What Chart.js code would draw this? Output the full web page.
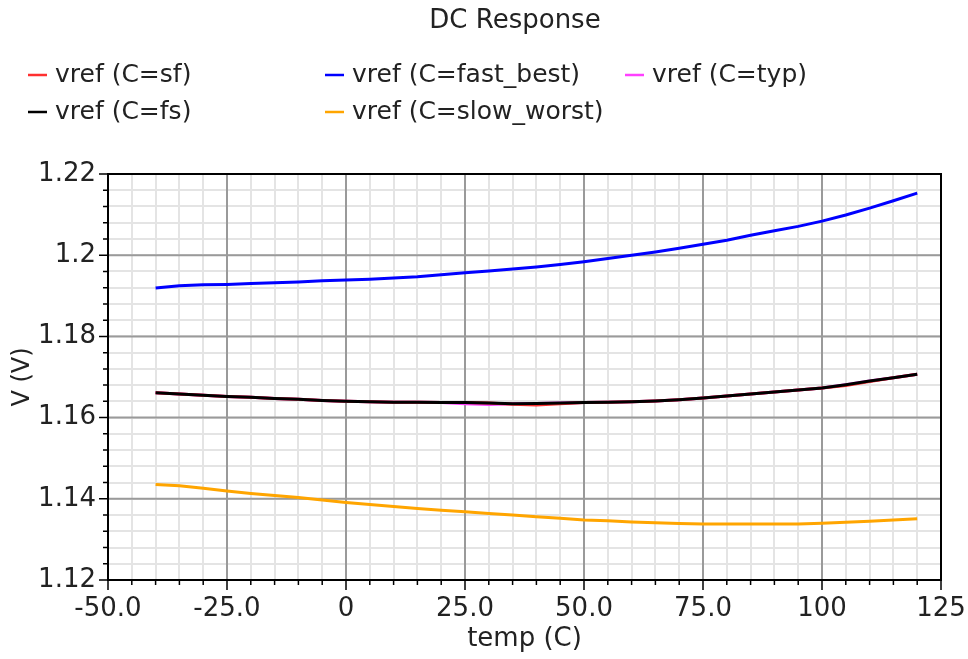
<!DOCTYPE html>
<html>
<head>
<meta charset="utf-8">
<title>DC Response</title>
<script src="https://cdn.jsdelivr.net/npm/chart.js@4.4.1/dist/chart.umd.min.js"></script>
<style>
  html, body { margin: 0; padding: 0; background: #fff; }
  #wrap { width: 968px; height: 659px; }
</style>
</head>
<body>
<div id="wrap"><canvas id="dc" width="968" height="659"></canvas></div>
<script>
var chartTitle = 'DC Response';
var temps = [-40, -35, -30, -25, -20, -15, -10, -5, 0, 5, 10, 15, 20, 25, 30, 35, 40,
             45, 50, 55, 60, 65, 70, 75, 80, 85, 90, 95, 100, 105, 110, 115, 120];

var vrefFastBest = [1.1919, 1.1925, 1.1927, 1.1928, 1.1930, 1.1932, 1.1934, 1.1937, 1.1939, 1.1941, 1.1944,
                    1.1947, 1.1952, 1.1957, 1.1961, 1.1966, 1.1971, 1.1977, 1.1984, 1.1992, 1.2000, 1.2008,
                    1.2017, 1.2027, 1.2037, 1.2049, 1.2060, 1.2071, 1.2084, 1.2099, 1.2116, 1.2134, 1.2153];
var vrefFs = [1.1661, 1.1658, 1.1655, 1.1652, 1.1650, 1.1647, 1.1645, 1.1642, 1.1640, 1.1639, 1.1638,
              1.1638, 1.1637, 1.1637, 1.1636, 1.1634, 1.1635, 1.1636, 1.1637, 1.1638, 1.1639, 1.1641,
              1.1644, 1.1648, 1.1653, 1.1658, 1.1663, 1.1668, 1.1673, 1.1681, 1.1690, 1.1698, 1.1707];
var vrefSf = [1.1661, 1.1658, 1.1655, 1.1652, 1.1650, 1.1647, 1.1645, 1.1642, 1.1640, 1.1639, 1.1638,
              1.1638, 1.1637, 1.1637, 1.1636, 1.1633, 1.1631, 1.1634, 1.1637, 1.1638, 1.1639, 1.1641,
              1.1644, 1.1648, 1.1653, 1.1658, 1.1663, 1.1668, 1.1673, 1.1679, 1.1689, 1.1698, 1.1707];
var vrefTyp = [1.1661, 1.1658, 1.1655, 1.1652, 1.1650, 1.1647, 1.1645, 1.1642, 1.1640, 1.1639, 1.1638,
               1.1638, 1.1637, 1.1634, 1.1632, 1.1634, 1.1635, 1.1636, 1.1637, 1.1638, 1.1639, 1.1641,
               1.1644, 1.1648, 1.1653, 1.1658, 1.1663, 1.1668, 1.1673, 1.1681, 1.1690, 1.1698, 1.1707];
var vrefSlowWorst = [1.1435, 1.1432, 1.1426, 1.1419, 1.1413, 1.1408, 1.1403, 1.1397, 1.1391, 1.1386, 1.1381,
                     1.1376, 1.1372, 1.1368, 1.1364, 1.1360, 1.1356, 1.1352, 1.1348, 1.1346, 1.1343, 1.1341,
                     1.1339, 1.1338, 1.1338, 1.1338, 1.1338, 1.1338, 1.1340, 1.1342, 1.1345, 1.1348, 1.1351];

var seriesNames = ['vref (C=sf)', 'vref (C=fast_best)', 'vref (C=typ)', 'vref (C=fs)', 'vref (C=slow_worst)'];
var seriesColors = ['#ff3030', '#0000ff', '#ff40ff', '#000000', '#ffa500'];
var seriesValues = [vrefSf, vrefFastBest, vrefTyp, vrefFs, vrefSlowWorst];
var seriesOrder = [3, 1, 3, 1, 1];  // sf / typ sit under fs

var xMajorTicks = [-50, -25, 0, 25, 50, 75, 100, 125];
var yMajorTicks = ['1.12', '1.14', '1.16', '1.18', '1.2', '1.22'];

Chart.defaults.font.family = '"DejaVu Sans", "Bitstream Vera Sans", sans-serif';
Chart.defaults.color = '#222';

function isMajorX(v) { return xMajorTicks.indexOf(Math.round(v)) >= 0; }
function isMajorY(v) { return yMajorTicks.indexOf(String(parseFloat(v.toFixed(3)))) >= 0; }

function toPoints(vals) {
    return temps.map(function(t, i) { return { x: t, y: vals[i] }; });
}

// major grid over the light minor grid, then title, legend, frame and tick marks
var decor = {
    id: 'decor',
    beforeDatasetsDraw: function(chart) {
        var ctx = chart.ctx, a = chart.chartArea;
        var xs = chart.scales.x, ys = chart.scales.y;
        ctx.save();
        ctx.strokeStyle = '#9a9a9a';
        ctx.lineWidth = 2;
        ctx.beginPath();
        xs.ticks.forEach(function(t) {
            if (!isMajorX(t.value)) return;
            var px = xs.getPixelForValue(t.value);
            ctx.moveTo(px, a.top);
            ctx.lineTo(px, a.bottom);
        });
        ys.ticks.forEach(function(t) {
            if (!isMajorY(t.value)) return;
            var py = ys.getPixelForValue(t.value);
            ctx.moveTo(a.left, py);
            ctx.lineTo(a.right, py);
        });
        ctx.stroke();
        ctx.restore();
    },
    afterDraw: function(chart) {
        var ctx = chart.ctx, a = chart.chartArea;
        var xs = chart.scales.x, ys = chart.scales.y;
        ctx.save();

        ctx.strokeStyle = '#000';
        ctx.lineWidth = 1.5;
        ctx.beginPath();
        xs.ticks.forEach(function(t) {
            var px = xs.getPixelForValue(t.value);
            ctx.moveTo(px, a.bottom);
            ctx.lineTo(px, a.bottom + (isMajorX(t.value) ? 10 : 5));
        });
        ys.ticks.forEach(function(t) {
            var py = ys.getPixelForValue(t.value);
            ctx.moveTo(a.left, py);
            ctx.lineTo(a.left - (isMajorY(t.value) ? 9 : 5), py);
        });
        ctx.stroke();

        ctx.lineWidth = 2;
        ctx.strokeRect(a.left, a.top, a.right - a.left, a.bottom - a.top);

        ctx.fillStyle = '#222';
        ctx.font = '26px "DejaVu Sans"';
        ctx.textAlign = 'center';
        ctx.textBaseline = 'alphabetic';
        ctx.fillText(chartTitle, 515, 28);

        var cols = [28, 325, 625], rows = [75, 112];
        ctx.font = '25px "DejaVu Sans"';
        ctx.textAlign = 'left';
        ctx.textBaseline = 'middle';
        seriesNames.forEach(function(name, i) {
            var lx = cols[i < 3 ? i : i - 3], ly = rows[i < 3 ? 0 : 1];
            ctx.strokeStyle = seriesColors[i];
            ctx.lineWidth = 2.5;
            ctx.beginPath();
            ctx.moveTo(lx, ly);
            ctx.lineTo(lx + 19, ly);
            ctx.stroke();
            ctx.fillText(name, lx + 27, ly);
        });
        ctx.restore();
    }
};

var datasets = seriesNames.map(function(name, i) {
    return {
        label: name,
        data: toPoints(seriesValues[i]),
        borderColor: seriesColors[i],
        backgroundColor: seriesColors[i],
        borderWidth: 3,
        pointRadius: 0,
        tension: 0,
        fill: false,
        order: seriesOrder[i]
    };
});

new Chart(document.getElementById('dc'), {
    type: 'line',
    data: { datasets: datasets },
    options: {
        responsive: false,
        animation: false,
        devicePixelRatio: 1,
        layout: { padding: { top: 174, right: 27, left: 0, bottom: 0 } },
        plugins: { legend: { display: false }, title: { display: false }, tooltip: { enabled: false } },
        scales: {
            x: {
                type: 'linear',
                min: -50,
                max: 125,
                afterFit: function(s) { s.height = 79; s.paddingLeft = 0; s.paddingRight = 0; },
                ticks: {
                    stepSize: 5,
                    autoSkip: false,
                    maxRotation: 0,
                    padding: 14,
                    font: { size: 26 },
                    callback: function(v) {
                        if (!isMajorX(v)) return '';
                        return (v === 0 || Math.abs(v) >= 100) ? String(v) : v.toFixed(1);
                    }
                },
                grid: { drawTicks: false, lineWidth: 2, color: '#e4e4e4' },
                border: { display: false },
                title: { display: true, text: 'temp (C)', font: { size: 26 }, padding: { top: 0, bottom: 4 } }
            },
            y: {
                min: 1.12,
                max: 1.22,
                afterFit: function(s) { s.width = 108; s.paddingTop = 0; s.paddingBottom = 0; },
                ticks: {
                    stepSize: 0.004,
                    autoSkip: false,
                    padding: 12,
                    font: { size: 26 },
                    callback: function(v) {
                        return isMajorY(v) ? String(parseFloat(v.toFixed(3))) : '';
                    }
                },
                grid: { drawTicks: false, lineWidth: 2, color: '#e4e4e4' },
                border: { display: false },
                title: { display: true, text: 'V (V)', font: { size: 24 }, padding: { top: 8, bottom: 0 } }
            }
        }
    },
    plugins: [decor]
});
</script>
</body>
</html>
